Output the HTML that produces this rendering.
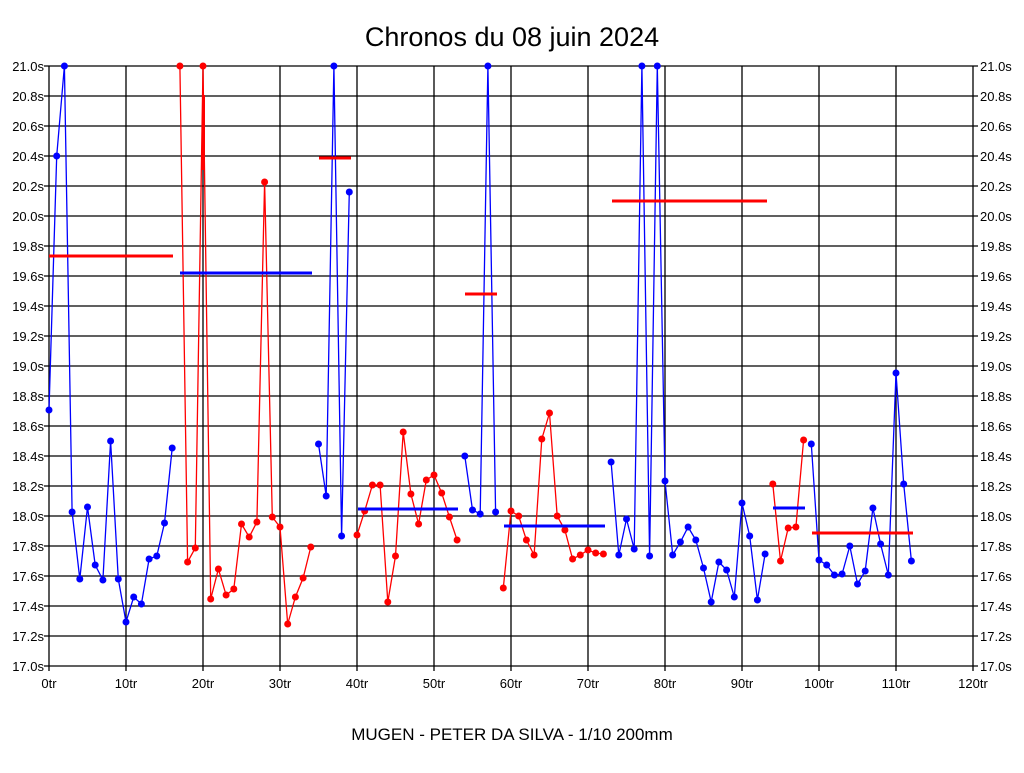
<!DOCTYPE html>
<html><head><meta charset="utf-8"><style>
body{margin:0;background:#fff;}
svg text{font-family:"Liberation Sans",sans-serif;}
</style></head><body>
<svg width="1024" height="768" xmlns="http://www.w3.org/2000/svg">
<rect width="1024" height="768" fill="#fff"/>
<text x="512" y="46" font-size="27" text-anchor="middle">Chronos du 08 juin 2024</text>
<text x="512" y="740" font-size="17" text-anchor="middle">MUGEN - PETER DA SILVA - 1/10 200mm</text>
<g id="grid" stroke="#000" stroke-width="1.3"></g>
<g id="lab" font-size="13"></g>
<g id="series"></g>
</svg>
<script>
const ns="http://www.w3.org/2000/svg";
function el(p,t,a,txt){const e=document.createElementNS(ns,t);for(const k in a)e.setAttribute(k,a[k]);if(txt!==undefined)e.textContent=txt;p.appendChild(e);return e;}
const g=document.getElementById('grid'),lab=document.getElementById('lab'),s=document.getElementById('series');
for(let i=0;i<=12;i++){const x=49+77*i;el(g,'line',{x1:x,y1:66,x2:x,y2:671});el(lab,'text',{x:x,y:688,'text-anchor':'middle'},(i*10)+'tr');}
for(let j=0;j<=20;j++){const y=66+30*j;el(g,'line',{x1:44,y1:y,x2:978,y2:y});const v=(21-j*0.2).toFixed(1)+'s';
el(lab,'text',{x:44,y:y+5,'text-anchor':'end'},v);el(lab,'text',{x:980,y:y+5},v);}
const X=i=>49+7.7*i;
const segs=[
['blue',0,[410,156,66,512,579,507,565,580,441,579,622,597,604,559,556,523,448]],
['red',17,[66,562,548,66,599,569,595,589,524,537,522,182,517,527,624,597,578,547]],
['blue',35,[444,496,66,536,192]],
['red',40,[535,511,485,485,602,556,432,494,524,480,475,493,517,540]],
['blue',54,[456,510,514,66,512]],
['red',59,[588,511,516,540,555,439,413,516,530,559,555,550,553,554]],
['blue',73,[462,555,519,549,66,556,66,481,555,542,527,540,568,602,562,570,597,503,536,600,554]],
['red',94,[484,561,528,527,440]],
['blue',99,[444,560,565,575,574,546,584,571,508,544,575,373,484,561]]];
const col={blue:'#0000ff',red:'#ff0000'};
for(const [c,st,ys] of segs){
 el(s,'polyline',{points:ys.map((y,k)=>X(st+k)+','+y).join(' '),fill:'none',stroke:col[c],'stroke-width':1.3});
 ys.forEach((y,k)=>el(s,'circle',{cx:X(st+k),cy:y,r:3.5,fill:col[c]}));
}
const avg=[['red',49,173,256],['blue',180,312,273],['red',319,351,158],['blue',358,458,509],['red',465,497,294],['blue',504,605,526],['red',612,767,201],['blue',773,805,508],['red',812,913,533]];
for(const [c,a,b,y] of avg)el(s,'line',{x1:a,y1:y,x2:b,y2:y,stroke:col[c],'stroke-width':3});
el(s,'line',{x1:203.5,y1:95,x2:203.5,y2:170,stroke:'#ff0000','stroke-width':3});
</script>
</body></html>
